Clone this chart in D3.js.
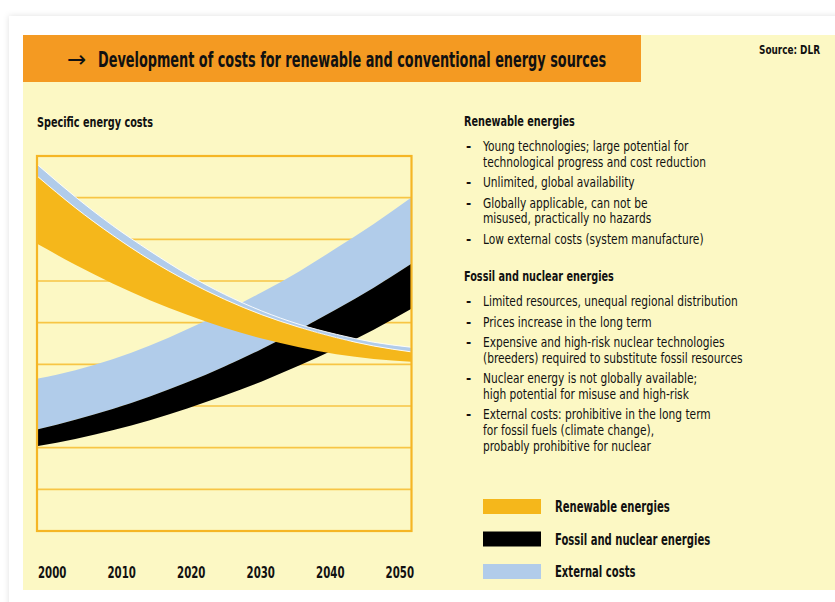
<!DOCTYPE html>
<html>
<head>
<meta charset="utf-8">
<script src="https://cdn.jsdelivr.net/npm/d3@7"></script>
<style>
  html, body { margin: 0; padding: 0; background: #ffffff; }
  svg { display: block; }
  text { font-family: "Liberation Sans Narrow", "Arial Narrow", "DejaVu Sans Condensed", sans-serif; fill: #111; }
</style>
</head>
<body>
<script>
// Years along the horizontal axis
const years = [2000, 2005, 2010, 2015, 2020, 2025, 2030, 2035, 2040, 2045, 2050];
const tickYears = [2000, 2010, 2020, 2030, 2040, 2050];

// Specific energy costs (relative units) — lower/upper edges of each band
const renewableLow      = [6.88, 6.39, 5.94, 5.54, 5.19, 4.88, 4.62, 4.41, 4.24, 4.13, 4.06];
const renewableHigh     = [8.50, 7.76, 7.10, 6.51, 6.00, 5.56, 5.19, 4.89, 4.64, 4.44, 4.30];
const renewableExternal = [8.78, 8.02, 7.33, 6.72, 6.16, 5.68, 5.28, 4.96, 4.72, 4.53, 4.41];
const fossilLow         = [2.04, 2.21, 2.42, 2.66, 2.94, 3.25, 3.59, 3.97, 4.38, 4.83, 5.33];
const fossilHigh        = [2.44, 2.67, 2.93, 3.23, 3.57, 3.95, 4.37, 4.83, 5.32, 5.84, 6.41];
const fossilExternal    = [3.66, 3.86, 4.12, 4.45, 4.84, 5.27, 5.73, 6.23, 6.79, 7.37, 8.00];

const gridLevels = [1, 2, 3, 4, 5, 6, 7, 8];

const legendLabels = ["Renewable energies", "Fossil and nuclear energies", "External costs"];

const renewableNotes = [
  ["Young technologies; large potential for", "technological progress and cost reduction"],
  ["Unlimited, global availability"],
  ["Globally applicable, can not be", "misused, practically no hazards"],
  ["Low external costs (system manufacture)"]
];
const fossilNotes = [
  ["Limited resources, unequal regional distribution"],
  ["Prices increase in the long term"],
  ["Expensive and high-risk nuclear technologies", "(breeders) required to substitute fossil resources"],
  ["Nuclear energy is not globally available;", "high potential for misuse and high-risk"],
  ["External costs: prohibitive in the long term", "for fossil fuels (climate change),", "probably prohibitive for nuclear"]
];

const C = {
  panel: "#FCF8C4",
  header: "#F49A22",
  orange: "#F5B71B",
  blue: "#B1CCEA",
  black: "#000000",
  grid: "#F7C545",
  frame: "#F5B625"
};

const W = 835, H = 602;
const svg = d3.select("body").append("svg").attr("width", W).attr("height", H);

// card with soft shadow
const defs = svg.append("defs");
const sh = defs.append("filter").attr("id", "shadow").attr("x", "-5%").attr("y", "-5%").attr("width", "110%").attr("height", "110%");
sh.append("feDropShadow").attr("dx", 0).attr("dy", 0).attr("stdDeviation", 3).attr("flood-color", "#000").attr("flood-opacity", 0.12);
svg.append("rect").attr("x", 9).attr("y", 16).attr("width", W).attr("height", H).attr("fill", "#fff").attr("filter", "url(#shadow)");

// yellow panel and orange header
svg.append("rect").attr("x", 23).attr("y", 35).attr("width", W - 23).attr("height", 555).attr("fill", C.panel);
svg.append("rect").attr("x", 23).attr("y", 35).attr("width", 618).attr("height", 47).attr("fill", C.header);

// horizontally compressed text (condensed look)
function ctext(sel, x, y, str, size, weight, sx) {
  return sel.append("text")
    .attr("transform", `translate(${x},${y}) scale(${sx},1)`)
    .attr("font-size", size).attr("font-weight", weight || "normal")
    .text(str);
}
const SX_BOLD = 0.745, SX_NORM = 0.845, SX_YEAR = 0.71;

svg.append("text").attr("x", 67).attr("y", 67).attr("font-size", 23)
  .style("font-family", "DejaVu Sans, sans-serif").text("\u2192");
ctext(svg, 98, 67, "Development of costs for renewable and conventional energy sources", 20.5, "bold", 0.698);
ctext(svg, 759, 54, "Source: DLR", 13, "bold", 0.76);
ctext(svg, 37, 127, "Specific energy costs", 14.5, "bold", SX_BOLD);

// chart
const x = d3.scaleLinear().domain([2000, 2050]).range([38, 411]);
const y = d3.scaleLinear().domain([0, 9]).range([531, 156]);

const g = svg.append("g");
defs.append("clipPath").attr("id", "plotclip").append("rect")
  .attr("x", 37).attr("y", 156).attr("width", 375).attr("height", 375);

g.selectAll("line.grid").data(gridLevels).join("line")
  .attr("class", "grid")
  .attr("x1", 37).attr("x2", 411).attr("y1", d => y(d)).attr("y2", d => y(d))
  .attr("stroke", C.grid).attr("stroke-width", 1.6);

const idx = d3.range(years.length);
const band = (lo, hi) => d3.area().curve(d3.curveMonotoneX)
  .x(i => x(years[i])).y0(i => y(lo[i])).y1(i => y(hi[i]))(idx);
const edge = arr => d3.line().curve(d3.curveMonotoneX)
  .x(i => x(years[i])).y(i => y(arr[i]))(idx);

const plot = g.append("g").attr("clip-path", "url(#plotclip)");
plot.append("path").attr("d", band(fossilHigh, fossilExternal)).attr("fill", C.blue);
plot.append("path").attr("d", band(fossilLow, fossilHigh)).attr("fill", C.black);
plot.append("path").attr("d", band(renewableHigh, renewableExternal)).attr("fill", C.blue);
plot.append("path").attr("d", band(renewableLow, renewableHigh)).attr("fill", C.orange);
plot.append("path").attr("d", edge(renewableExternal)).attr("fill", "none").attr("stroke", "#fff").attr("stroke-width", 0.9);
plot.append("path").attr("d", edge(renewableHigh)).attr("fill", "none").attr("stroke", "#fff").attr("stroke-width", 0.9);

g.append("rect").attr("x", 37).attr("y", 156).attr("width", 374.5).attr("height", 375)
  .attr("fill", "none").attr("stroke", C.frame).attr("stroke-width", 2.2);

// year labels spread from the left frame edge to the right frame edge
tickYears.forEach((yr, i) => {
  const t = ctext(g, 0, 0, String(yr), 16, "bold", SX_YEAR);
  const w = t.node().getComputedTextLength() * SX_YEAR;
  const frac = i / (tickYears.length - 1);
  t.attr("transform", `translate(${x(yr) - frac * w + frac * 3},578) scale(${SX_YEAR},1)`);
});

// notes
function notes(title, items, y0) {
  ctext(svg, 464, y0, title, 14.5, "bold", SX_BOLD);
  let yy = y0 + 25;
  items.forEach(lines => {
    ctext(svg, 466, yy, "-", 14, "bold", 1);
    lines.forEach((ln, j) => {
      ctext(svg, 483, yy, ln, 14, "normal", SX_NORM);
      if (j < lines.length - 1) yy += 15.7;
    });
    yy += 20.5;
  });
}
notes("Renewable energies", renewableNotes, 126);
notes("Fossil and nuclear energies", fossilNotes, 281);

// legend
const legendColors = [C.orange, C.black, C.blue];
legendLabels.forEach((lab, i) => {
  const yy = 499 + i * 32.5;
  svg.append("rect").attr("x", 483).attr("y", yy).attr("width", 58).attr("height", 15).attr("fill", legendColors[i]);
  ctext(svg, 555, yy + 13, lab, 15, "bold", SX_BOLD);
});
</script>
</body>
</html>
